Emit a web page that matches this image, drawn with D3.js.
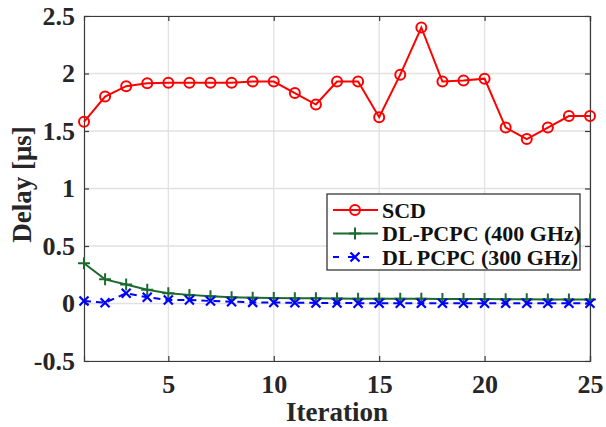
<!DOCTYPE html>
<html>
<head>
<meta charset="utf-8">
<script src="https://cdn.jsdelivr.net/npm/d3@7"></script>
<style>
  body { margin: 0; background: #fff; }
  svg { display: block; font-family: "Liberation Serif", "Times New Roman", serif; font-weight: bold; }
  svg text { font-family: "Liberation Serif", "Times New Roman", serif; font-weight: bold; }
</style>
</head>
<body>
<svg id="chart"></svg>
<script>
// values
const iterations = [1, 2, 3, 4, 5, 6, 7, 8, 9, 10, 11, 12, 13, 14, 15, 16, 17, 18, 19, 20, 21, 22, 23, 24, 25];
const scdDelay = [1.58, 1.80, 1.89, 1.915, 1.92, 1.92, 1.92, 1.92, 1.93, 1.93, 1.83, 1.73, 1.93, 1.93, 1.62,
  1.99, 2.40, 1.93, 1.94, 1.955, 1.53, 1.43, 1.53, 1.63, 1.63];
const pcpc400Delay = [0.35, 0.21, 0.165, 0.12, 0.09, 0.075, 0.062, 0.055, 0.05, 0.048, 0.046, 0.045, 0.043,
  0.042, 0.042, 0.041, 0.041, 0.040, 0.040, 0.040, 0.036, 0.036, 0.035, 0.035, 0.035];
const pcpc300Delay = [0.022, 0.007, 0.089, 0.054, 0.03, 0.03, 0.022, 0.016, 0.01, 0.008, 0.007, 0.005, 0.004,
  0.003, 0.003, 0.003, 0.003, 0.003, 0.003, 0.003, 0.003, 0.003, 0.003, 0.003, 0.003];
const seriesNames = ["SCD", "DL-PCPC (400 GHz)", "DL PCPC (300 GHz)"];
const xTickValues = [5, 10, 15, 20, 25];
const yTickValues = [-0.5, 0, 0.5, 1, 1.5, 2, 2.5];

function chartEntryPoint() {
  const svgSpec = {
    outerSize: { width: 606, height: 427 },
    margin: { top: 16, left: 84, right: 16, bottom: 66 }
  };
  svgSpec.innerSize = {
    width: svgSpec.outerSize.width - svgSpec.margin.left - svgSpec.margin.right,
    height: svgSpec.outerSize.height - svgSpec.margin.top - svgSpec.margin.bottom
  };
  new DelayChart({ svgSpec });
}

class DelayChart {
  constructor(props) {
    this.props = props;
    this.series = [
      { name: seriesNames[0], values: scdDelay, color: "#ff0000", dash: null, marker: "circle" },
      { name: seriesNames[1], values: pcpc400Delay, color: "#1b6b2e", dash: null, marker: "plus" },
      { name: seriesNames[2], values: pcpc300Delay, color: "#0000ff", dash: "7,5", marker: "cross" }
    ];
    this.initVizSpace();
    this.initScale();
    this.initGrid();
    this.initAxis();
    this.initAxisLabels();
    this.drawLines();
    this.drawLegend();
  }

  initVizSpace() {
    const { outerSize, margin } = this.props.svgSpec;
    this.root = d3.select("#chart").attr("width", outerSize.width).attr("height", outerSize.height);
    this.svg = this.root.append("g").attr("transform", `translate(${margin.left}, ${margin.top})`);
  }

  initScale() {
    const { width, height } = this.props.svgSpec.innerSize;
    this.x = d3.scaleLinear().domain([1, 25]).range([0, width]);
    this.y = d3.scaleLinear().domain([-0.5, 2.5]).range([height, 0]);
  }

  initGrid() {
    const { width, height } = this.props.svgSpec.innerSize;
    this.svg.append("g").selectAll("line.vgrid").data(xTickValues).join("line")
      .attr("x1", d => this.x(d)).attr("x2", d => this.x(d))
      .attr("y1", 0).attr("y2", height)
      .attr("stroke", "#e1e1e1").attr("stroke-width", 1.3);
    this.svg.append("g").selectAll("line.hgrid").data(yTickValues).join("line")
      .attr("x1", 0).attr("x2", width)
      .attr("y1", d => this.y(d)).attr("y2", d => this.y(d))
      .attr("stroke", "#e1e1e1").attr("stroke-width", 1.3);
  }

  initAxis() {
    const { width, height } = this.props.svgSpec.innerSize;
    const styleAxis = (g, showText) => {
      g.attr("font-family", null).attr("font-size", null);
      g.select(".domain").attr("stroke", "#3a3a3a").attr("stroke-width", 1.2);
      g.selectAll(".tick line").attr("stroke", "#3a3a3a").attr("stroke-width", 1.2);
      g.selectAll("text").attr("fill", "#262626")
        .style("font-size", "26px")
        .style("display", showText ? null : "none");
    };
    const fmt = d => String(d);

    this.svg.append("g").attr("transform", `translate(0, ${height})`)
      .call(d3.axisBottom(this.x).tickValues(xTickValues).tickSize(-5).tickPadding(14).tickFormat(fmt))
      .call(g => styleAxis(g, true));
    this.svg.append("g")
      .call(d3.axisTop(this.x).tickValues(xTickValues).tickSize(-5))
      .call(g => styleAxis(g, false));
    this.svg.append("g")
      .call(d3.axisLeft(this.y).tickValues(yTickValues).tickSize(-5).tickPadding(9).tickFormat(fmt))
      .call(g => styleAxis(g, true));
    this.svg.append("g").attr("transform", `translate(${width}, 0)`)
      .call(d3.axisRight(this.y).tickValues(yTickValues).tickSize(-5))
      .call(g => styleAxis(g, false));
  }

  initAxisLabels() {
    const { width, height } = this.props.svgSpec.innerSize;
    this.svg.append("text")
      .attr("x", width / 2).attr("y", height + 60)
      .attr("text-anchor", "middle").style("font-size", "27px").attr("fill", "#262626")
      .text("Iteration");
    this.svg.append("text")
      .attr("transform", `translate(${-53}, ${height / 2 - 4}) rotate(-90)`)
      .attr("text-anchor", "middle").style("font-size", "27px").attr("fill", "#262626")
      .text("Delay [μs]");
  }

  drawMarker(sel, s) {
    if (s.marker === "circle") {
      sel.append("circle").attr("r", 5).attr("fill", "none")
        .attr("stroke", s.color).attr("stroke-width", 2);
    } else if (s.marker === "plus") {
      sel.append("path").attr("d", "M-6,0H6M0,-6V6").attr("fill", "none")
        .attr("stroke", s.color).attr("stroke-width", 2);
    } else {
      sel.append("path").attr("d", "M-4.5,-4.5L4.5,4.5M-4.5,4.5L4.5,-4.5").attr("fill", "none")
        .attr("stroke", s.color).attr("stroke-width", 2.2);
    }
  }

  drawLines() {
    const line = d3.line()
      .x((d, i) => this.x(iterations[i]))
      .y(d => this.y(d));

    this.series.forEach(s => {
      this.svg.append("path")
        .datum(s.values)
        .attr("d", line)
        .attr("fill", "none")
        .attr("stroke", s.color)
        .attr("stroke-width", 2)
        .attr("stroke-dasharray", s.dash);

      const self = this;
      this.svg.append("g").selectAll("g").data(s.values).join("g")
        .attr("transform", (d, i) => `translate(${this.x(iterations[i])}, ${this.y(d)})`)
        .each(function () { self.drawMarker(d3.select(this), s); });
    });
  }

  drawLegend() {
    const box = { x: 327, y: 194, w: 253, h: 76 };
    const lg = this.root.append("g");
    lg.append("rect").attr("x", box.x).attr("y", box.y).attr("width", box.w).attr("height", box.h)
      .attr("fill", "#fff").attr("stroke", "#262626").attr("stroke-width", 1.2);

    const self = this;
    const rows = lg.selectAll("g.row").data(this.series).join("g")
      .attr("transform", (d, i) => `translate(${box.x}, ${box.y + 16 + i * 23.5})`);
    rows.append("line")
      .attr("x1", 6).attr("x2", 51).attr("y1", 0).attr("y2", 0)
      .attr("stroke", d => d.color).attr("stroke-width", 2)
      .attr("stroke-dasharray", d => d.dash ? "6,9" : null);
    rows.append("g").attr("transform", "translate(28, 0)")
      .each(function (d) { self.drawMarker(d3.select(this), d); });
    rows.append("text")
      .attr("x", 55).attr("y", 7.5)
      .style("font-size", "22px").attr("fill", "#111")
      .text(d => d.name);
  }
}

chartEntryPoint();
</script>
</body>
</html>
